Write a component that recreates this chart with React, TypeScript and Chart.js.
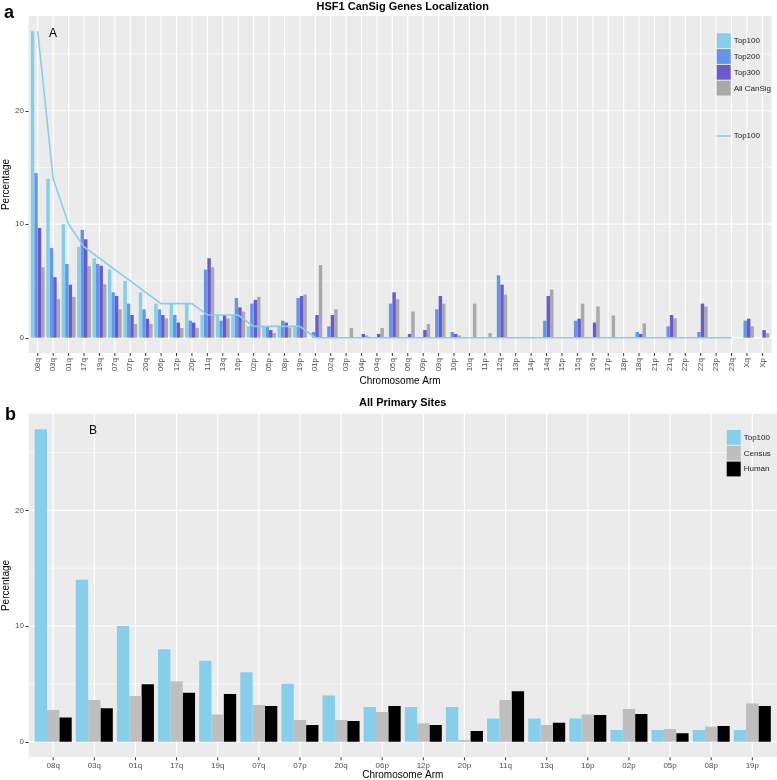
import React, { useEffect, useRef } from 'react';
import { Chart, registerables } from 'chart.js';
Chart.register(...registerables);

// ---------- Panel A data ----------
const LABELS_A = ['08q','03q','01q','17q','19q','07q','07p','20q','06p','12p','20p','11q','13q','16p','02p','05p','08p','19p','01p','02q','03p','04p','04q','05q','06q','09p','09q','10p','10q','11p','12q','13p','14p','14q','15p','15q','16q','17p','18p','18q','21p','21q','22p','22q','23p','23q','Xq','Xp'];
const TOP100_A = [27,14,10,8,7,6,5,4,3,3,3,2,2,2,1,1,1,1,0,0,0,0,0,0,0,0,0,0,0,0,0,0,0,0,0,0,0,0,0,0,0,0,0,0,0,0,0,0];
const TOP100_LINE_A = [27,14,10,8,7,6,5,4,3,3,3,2,2,2,1,1,1,1,0,0,0,0,0,0,0,0,0,0,0,0,0,0,0,0,0,0,0,0,0,0,0,0,0,0,0,0,null,null];
const TOP200_A = [14.5,7.9,6.5,9.5,6.5,4.0,3.0,2.5,2.5,2.0,1.5,6.0,1.5,3.5,3.0,1.0,1.5,3.5,0.5,1.0,0,0,0,3.0,0,0,2.5,0.5,0,0,5.5,0,0,1.5,0,1.5,0,0,0,0.5,0,1.0,0,0.5,0,0,1.5,0];
const TOP300_A = [9.67,5.33,4.67,8.67,6.33,3.67,2.0,1.67,2.0,1.33,1.33,7.0,2.0,2.67,3.33,0.67,1.33,3.67,2.0,2.0,0,0.33,0.33,4.0,0.33,0.67,3.67,0.33,0,0,4.67,0,0,3.67,0,1.67,1.33,0,0,0.33,0,2.0,0,3.0,0,0,1.67,0.67];
const ALLCANSIG_A = [6.2,3.4,3.6,6.3,4.7,2.5,1.2,1.2,1.7,0.85,0.85,6.2,1.7,2.3,3.6,0.4,0.9,3.8,6.4,2.5,0.85,0.2,0.85,3.4,2.3,1.2,3.0,0.2,3.0,0.4,3.8,0,0,4.25,0,3.0,2.75,1.95,0,1.25,0,1.7,0,2.75,0,0,1.0,0.4];

// ---------- Panel B data ----------
const LABELS_B = ['08q','03q','01q','17q','19q','07q','07p','20q','06p','12p','20p','11q','13q','16p','02p','05p','08p','19p'];
const TOP100_B = [27,14,10,8,7,6,5,4,3,3,3,2,2,2,1,1,1,1];
const CENSUS_B = [2.74,3.6,3.95,5.22,2.36,3.17,1.87,1.87,2.56,1.59,0.14,3.6,1.44,2.36,2.82,1.1,1.3,3.31];
const HUMAN_B = [2.1,2.88,4.96,4.24,4.12,3.08,1.44,1.79,3.08,1.44,0.92,4.35,1.64,2.3,2.39,0.72,1.35,3.08];

const Y_MAJOR = [0, 10, 20];
const Y_MINOR = [5, 15, 25];

// ---------- styling ----------
const FONT = "'Liberation Sans', Arial, Helvetica, sans-serif";
const SKY = '#87CEEB';
const CORN = '#6495ED';
const SLATE = '#6A5ACD';
const DKGRAY = '#A9A9A9';
const GRAY = '#BEBEBE';
const BLACK = '#000000';

const W = 777;
const PANEL_LEFT = 28.5;
const Y_MIN = -1.35;
const Y_MAX = 28.35;

function extraFor(n: number) {
  return (0.1 * (W - PANEL_LEFT)) / (n + 0.2);
}

const ggPanel = {
  id: 'ggPanel',
  beforeDraw(chart: any) {
    const { ctx, chartArea: a, scales } = chart;
    const xs = scales.x;
    const ys = scales.y;
    const n = chart.data.labels.length;
    const ext = extraFor(n);
    const L = a.left - ext;
    const R = a.right + ext;
    const line = (x1: number, y1: number, x2: number, y2: number) => {
      ctx.beginPath();
      ctx.moveTo(x1, y1);
      ctx.lineTo(x2, y2);
      ctx.stroke();
    };
    ctx.save();
    ctx.fillStyle = '#EBEBEB';
    ctx.fillRect(L, a.top, R - L, a.bottom - a.top);
    ctx.strokeStyle = '#FFFFFF';
    ctx.lineWidth = 0.6;
    for (const v of Y_MINOR) {
      const p = ys.getPixelForValue(v);
      line(L, p, R, p);
    }
    ctx.lineWidth = 1.2;
    for (const v of Y_MAJOR) {
      const p = ys.getPixelForValue(v);
      line(L, p, R, p);
    }
    for (let i = 0; i < n; i++) {
      const p = xs.getPixelForValue(i);
      line(p, a.top, p, a.bottom);
    }
    ctx.strokeStyle = '#333333';
    ctx.lineWidth = 1;
    for (const v of Y_MAJOR) {
      const p = Math.round(ys.getPixelForValue(v)) + 0.5;
      line(L - 3, p, L, p);
    }
    for (let i = 0; i < n; i++) {
      const p = xs.getPixelForValue(i);
      line(p, a.bottom, p, a.bottom + 3);
    }
    ctx.restore();
  },
};

const ggDecor = {
  id: 'ggDecor',
  afterDraw(chart: any, _args: any, o: any) {
    const { ctx } = chart;
    ctx.save();
    // title
    ctx.fillStyle = '#000';
    ctx.font = `bold 11px ${FONT}`;
    ctx.textAlign = 'center';
    ctx.textBaseline = 'middle';
    ctx.fillText(o.title, (PANEL_LEFT + W) / 2, o.titleY);
    // panel letter
    ctx.textAlign = 'left';
    ctx.textBaseline = 'alphabetic';
    ctx.font = `bold 18px ${FONT}`;
    ctx.fillText(o.letter, o.letterX, o.letterY);
    // inner label
    ctx.font = `12px ${FONT}`;
    ctx.fillText(o.inner, o.innerX, o.innerY);
    // legend boxes
    const bars = chart.data.datasets.filter((d: any) => d.type !== 'line');
    ctx.font = `8px ${FONT}`;
    ctx.textBaseline = 'middle';
    bars.forEach((d: any, i: number) => {
      const y0 = o.legendY + i * 15.8;
      ctx.fillStyle = d.backgroundColor;
      ctx.fillRect(o.legendX, y0, 14, 14.8);
      ctx.fillStyle = '#1a1a1a';
      ctx.fillText(d.label, o.legendX + 17, y0 + 7.6);
    });
    const lines = chart.data.datasets.filter((d: any) => d.type === 'line');
    lines.forEach((d: any, i: number) => {
      const y = o.lineLegendY + i * 15.8;
      ctx.strokeStyle = d.borderColor;
      ctx.lineWidth = 1.5;
      ctx.beginPath();
      ctx.moveTo(o.legendX, y);
      ctx.lineTo(o.legendX + 14, y);
      ctx.stroke();
      ctx.fillStyle = '#1a1a1a';
      ctx.fillText(d.label, o.legendX + 17, y);
    });
    ctx.restore();
  },
};

function makeScales(n: number, xHeight: number, rotated: boolean) {
  const ext = extraFor(n);
  const yWidth = PANEL_LEFT + ext;
  return {
    x: {
      grid: { display: false, drawTicks: false },
      border: { display: false },
      ticks: {
        autoSkip: false,
        maxRotation: rotated ? 90 : 0,
        minRotation: rotated ? 90 : 0,
        padding: rotated ? 5 : 4,
        color: '#4D4D4D',
        font: { family: FONT, size: 8 },
      },
      title: {
        display: true,
        text: 'Chromosome Arm',
        color: '#000',
        font: { family: FONT, size: 10, lineHeight: rotated ? 1.1 : 1.0 },
        padding: { top: 0, bottom: rotated ? 1 : -0.5 },
      },
      afterFit: (s: any) => {
        s.height = xHeight;
      },
    },
    y: {
      min: Y_MIN,
      max: Y_MAX,
      grid: { display: false, drawTicks: false },
      border: { display: false },
      ticks: {
        stepSize: 10,
        includeBounds: false,
        padding: yWidth - 24,
        color: '#4D4D4D',
        font: { family: FONT, size: 8 },
      },
      title: {
        display: true,
        text: 'Percentage',
        color: '#000',
        font: { family: FONT, size: 10, lineHeight: 1.1 },
        padding: { top: 1, bottom: 0 },
      },
      afterFit: (s: any) => {
        s.width = yWidth;
      },
    },
  };
}

export default function App() {
  const refA = useRef<HTMLCanvasElement>(null);
  const refB = useRef<HTMLCanvasElement>(null);

  useEffect(() => {
    const nA = LABELS_A.length;
    const nB = LABELS_B.length;
    const barOpts = { categoryPercentage: 0.9, barPercentage: 1.0, borderWidth: 0, order: 1 };

    const chartA = new Chart(refA.current as HTMLCanvasElement, {
      type: 'bar',
      data: {
        labels: LABELS_A,
        datasets: [
          { type: 'line', label: 'Top100', data: TOP100_LINE_A, borderColor: SKY, borderWidth: 1.6, pointRadius: 0, fill: false, tension: 0, order: 0 } as any,
          { label: 'Top100', data: TOP100_A, backgroundColor: SKY, ...barOpts },
          { label: 'Top200', data: TOP200_A, backgroundColor: CORN, ...barOpts },
          { label: 'Top300', data: TOP300_A, backgroundColor: SLATE, ...barOpts },
          { label: 'All CanSig', data: ALLCANSIG_A, backgroundColor: DKGRAY, ...barOpts },
        ],
      },
      options: {
        animation: false,
        responsive: false,
        maintainAspectRatio: false,
        devicePixelRatio: 1,
        layout: { padding: { top: 16, right: extraFor(nA), left: 0, bottom: 0 } },
        plugins: {
          legend: { display: false },
          title: { display: false },
          tooltip: { enabled: false },
          ggDecor: {
            title: 'HSF1 CanSig Genes Localization',
            titleY: 6.5,
            letter: 'a',
            letterX: 4,
            letterY: 18,
            inner: 'A',
            innerX: 49,
            innerY: 37,
            legendX: 716.7,
            legendY: 33.3,
            lineLegendY: 136,
          },
        } as any,
        scales: makeScales(nA, 35, true) as any,
      },
      plugins: [ggPanel, ggDecor],
    });

    const chartB = new Chart(refB.current as HTMLCanvasElement, {
      type: 'bar',
      data: {
        labels: LABELS_B,
        datasets: [
          { label: 'Top100', data: TOP100_B, backgroundColor: SKY, ...barOpts },
          { label: 'Census', data: CENSUS_B, backgroundColor: GRAY, ...barOpts },
          { label: 'Human', data: HUMAN_B, backgroundColor: BLACK, ...barOpts },
        ],
      },
      options: {
        animation: false,
        responsive: false,
        maintainAspectRatio: false,
        devicePixelRatio: 1,
        layout: { padding: { top: 23.7, right: extraFor(nB), left: 0, bottom: 0 } },
        plugins: {
          legend: { display: false },
          title: { display: false },
          tooltip: { enabled: false },
          ggDecor: {
            title: 'All Primary Sites',
            titleY: 13,
            letter: 'b',
            letterX: 5,
            letterY: 30,
            inner: 'B',
            innerX: 89,
            innerY: 44,
            legendX: 726.7,
            legendY: 40,
            lineLegendY: 0,
          },
        } as any,
        scales: makeScales(nB, 22.7, false) as any,
      },
      plugins: [ggPanel, ggDecor],
    });

    return () => {
      chartA.destroy();
      chartB.destroy();
    };
  }, []);

  return (
    <div style={{ position: 'absolute', left: 0, top: 0, width: W, height: 780, background: '#fff' }}>
      <canvas ref={refA} width={W} height={388} style={{ position: 'absolute', left: 0, top: 0, width: W, height: 388 }} />
      <canvas ref={refB} width={W} height={390} style={{ position: 'absolute', left: 0, top: 390, width: W, height: 390 }} />
    </div>
  );
}
